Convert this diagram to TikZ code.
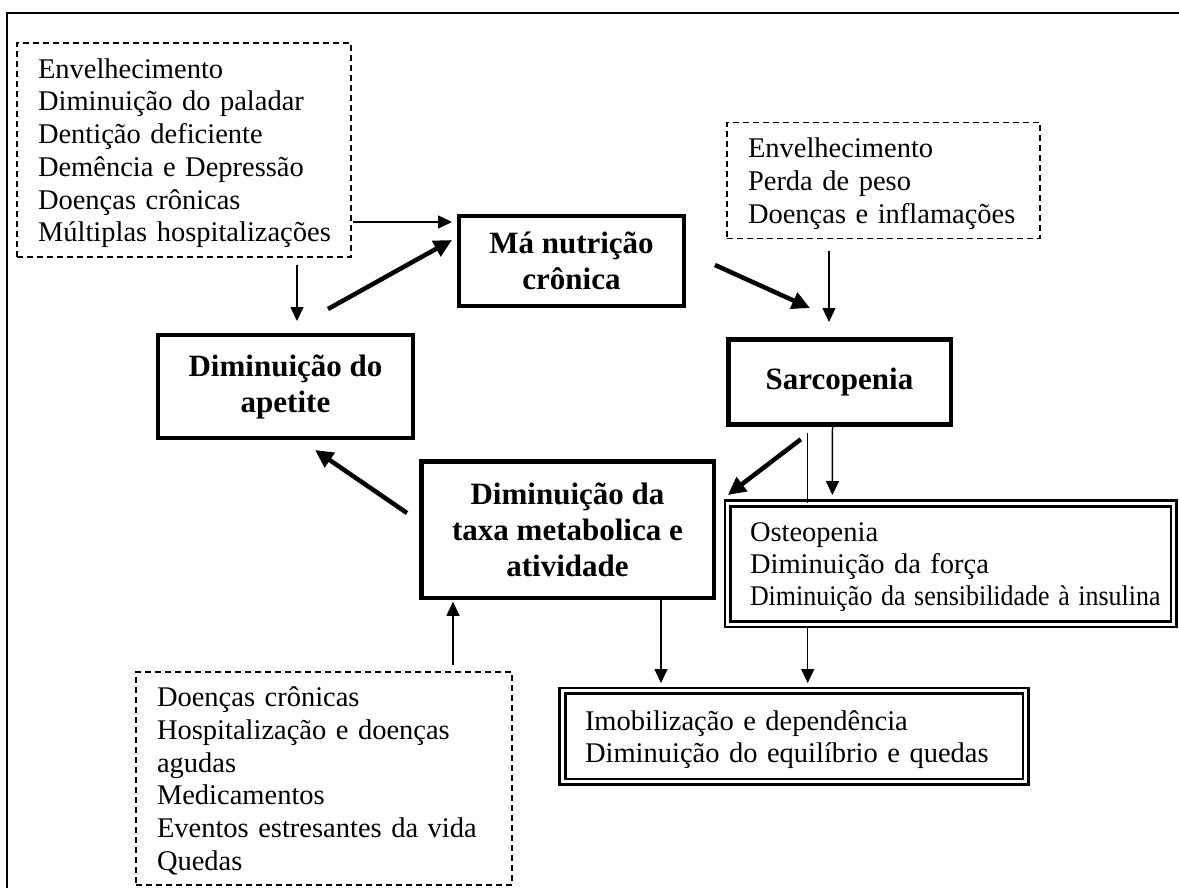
\documentclass[tikz,border=0pt]{standalone}
\usepackage{fontspec}
\setmainfont{Liberation Serif}
\usepackage{graphicx}
\usetikzlibrary{arrows.meta}
\tikzset{
  mainbox/.style={draw, line width=4.5pt, align=center, inner sep=0pt, outer sep=0pt,
    font=\bfseries\fontsize{31}{36}\selectfont},
  dashbox/.style={draw, line width=1.5pt, dash pattern=on 6pt off 4pt, align=left,
    inner ysep=0pt, outer sep=0pt, font=\fontsize{28.5}{32.7}\selectfont},
  dblbox/.style={draw, line width=2.6pt, double=white, double distance=3pt, align=left,
    inner ysep=0pt, outer sep=0pt, font=\fontsize{28.5}{32.2}\selectfont},
  thinarrow/.style={line width=1.5pt, -{Triangle[length=14pt,width=13pt]}},
  thickarrow/.style={line width=4.5pt, -{Triangle[length=18pt,width=17pt]}},
  plainline/.style={line width=1.5pt},
  frameline/.style={line width=2pt}
}
\newcommand{\rows}[1]{\raisebox{-3.5pt}[\height][\depth]{\begin{tabular}{@{}l@{}}#1\end{tabular}}}
\begin{document}
\begin{tikzpicture}[x=1pt,y=-1pt]
\useasboundingbox (0,0) rectangle (1179,888);
\draw[frameline] (7,888) -- (7,13) -- (1179,13);

% dashed cause boxes
\node[dashbox, minimum width=334pt, minimum height=214pt, text width=292pt, inner xsep=21pt] (tl) at (184,150)
  {\rows{Envelhecimento\\ Diminuição do paladar\\ Dentição deficiente\\ Demência e Depressão\\ Doenças crônicas\\ Múltiplas hospitalizações}};
\node[dashbox, minimum width=313pt, minimum height=115.6pt, text width=271pt, inner xsep=21pt] (tr) at (883.5,180.5)
  {\rows{Envelhecimento\\ Perda de peso\\ Doenças e inflamações}};
\node[dashbox, minimum width=376pt, minimum height=213pt, text width=334pt, inner xsep=21pt] (bl) at (324,778.5)
  {\rows{Doenças crônicas\\ Hospitalização e doenças\\ agudas\\ Medicamentos\\ Eventos estresantes da vida\\ Quedas}};

% main boxes
\node[mainbox, minimum width=225pt, minimum height=90pt] (mn) at (571.5,261) {Má nutrição\\ crônica};
\node[mainbox, minimum width=222.5pt, minimum height=85pt] (sarc) at (839.5,382) {Sarcopenia};
\node[mainbox, minimum width=255pt, minimum height=103pt] (ap) at (285.5,386.5) {Diminuição do\\ apetite};
\node[mainbox, minimum width=292.5pt, minimum height=136.5pt] (taxa) at (567.5,529.5) {Diminuição da\\ taxa metabolica e\\ atividade};

% double boxes
\node[dblbox, minimum width=445.7pt, minimum height=120.8pt, text width=401.5pt, inner xsep=22.1pt] (ost) at (950.75,563.8)
  {\rows{Osteopenia\\ Diminuição da força\\ \scalebox{0.91}[1]{Diminuição da sensibilidade à insulina}}};
\node[dblbox, minimum width=463.5pt, minimum height=90.8pt, text width=418.3pt, inner xsep=22.6pt] (imob) at (794.15,736.2)
  {\rows{Imobilização e dependência\\ Diminuição do equilíbrio e quedas}};

% connectors
\draw[thinarrow] ([xshift=2pt,yshift=-72pt]tl.east) -- ([xshift=-7pt,yshift=39pt]mn.west);
\draw[thickarrow] ([xshift=42.5pt,yshift=26pt]ap.north) -- ([xshift=-7pt,yshift=21pt]mn.west);
\draw[thinarrow] ([xshift=113pt,yshift=-8pt]tl.south) -- ([xshift=11.5pt,yshift=14pt]ap.north);
\draw[thickarrow] ([xshift=31pt,yshift=-4pt]mn.east) -- ([xshift=-29.5pt,yshift=31.5pt]sarc.north);
\draw[thinarrow] ([xshift=-54.5pt,yshift=-13pt]tr.south) -- ([xshift=-10.5pt,yshift=17.5pt]sarc.north);
\draw[plainline] ([xshift=-32pt,yshift=-8.5pt]sarc.south) -- ([xshift=-143.25pt]ost.north);
\draw[thinarrow] ([xshift=-7pt]sarc.south) -- ([xshift=-118.35pt,yshift=8.4pt]ost.north);
\draw[thickarrow] ([xshift=-38.7pt,yshift=-14.8pt]sarc.south) -- ([xshift=14pt,yshift=-33.75pt]taxa.north east);
\draw[thickarrow] ([xshift=-14.25pt,yshift=16.5pt]taxa.west) -- ([xshift=29.5pt,yshift=-12pt]ap.south);
\draw[thinarrow] ([xshift=129pt,yshift=7pt]bl.north) -- ([xshift=-114.5pt,yshift=-4pt]taxa.south);
\draw[thinarrow] ([xshift=93.5pt]taxa.south) -- ([xshift=-133.15pt,yshift=7.8pt]imob.north);
\draw[thinarrow] ([xshift=-143.05pt,yshift=-3.8pt]ost.south) -- ([xshift=13.55pt,yshift=7.8pt]imob.north);
\end{tikzpicture}
\end{document}
